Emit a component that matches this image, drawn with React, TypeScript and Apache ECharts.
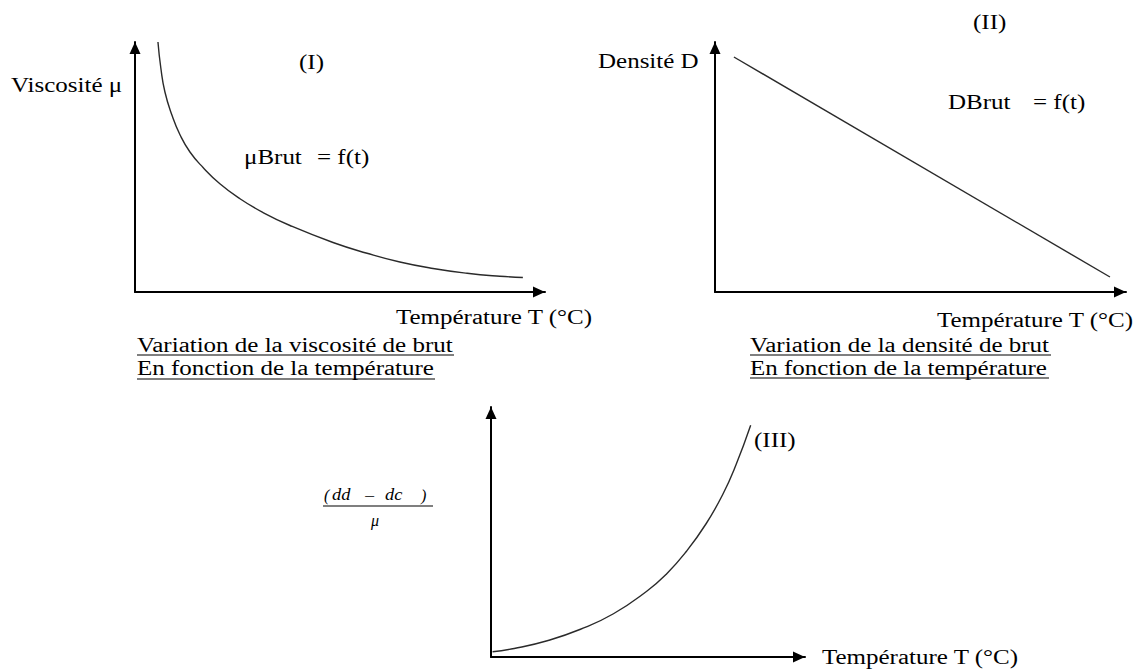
import React, { useEffect, useRef } from "react";
import * as echarts from "echarts";

// Chart I: viscosity vs temperature (relative units 0..100)
const visTemp = [5.6, 6.3, 7.3, 9.0, 11.0, 13.4, 16.6, 20.7, 25.6, 31.2, 37.8, 48.3, 56.6, 64.6, 72.7, 81, 89, 94.6];
const visMu = [100, 89.6, 80, 70.8, 62.8, 56, 49.8, 43.3, 37.3, 31.8, 26.6, 19.8, 15.5, 12, 9.4, 7.5, 6.3, 5.8];
// Chart II: density vs temperature
const densTemp = [4.6, 96.1];
const densD = [94, 6];
// Chart III: (dd - dc)/mu vs temperature
const ratioTemp = [0.5, 7.4, 17.9, 28.5, 39, 49.6, 55.9, 62.2, 68.5, 73.8, 78, 82.7];
const ratioVal = [2.1, 3.4, 6.5, 11.1, 17.3, 26.3, 33.2, 42.2, 53.3, 65, 76.8, 92.7];

const axisName = "Température T (°C)";
const titlesI = ["Variation de la viscosité de brut", "En fonction de la température"];
const titlesII = ["Variation de la densité de brut", "En fonction de la température"];

const FONT = '20px "Liberation Serif", "Times New Roman", serif';
const IFONT = 'italic 16px "Liberation Serif", serif';
const SX = 1.25;

function txt(text: string, x: number, y: number, font = FONT, sx = SX, align = "left") {
  return {
    type: "text",
    x,
    y,
    scaleX: sx,
    silent: true,
    style: {
      text,
      x: 0,
      y: 0,
      font,
      fill: "#000",
      textAlign: align,
      textVerticalAlign: "middle",
      align,
      verticalAlign: "middle",
    },
  };
}

function uline(x1: number, x2: number, y: number, w = 1.2) {
  return {
    type: "line",
    silent: true,
    shape: { x1, y1: y, x2, y2: y },
    style: { stroke: "#000", lineWidth: w },
  };
}

function axis(gridIndex: number) {
  return {
    type: "value",
    gridIndex,
    min: 0,
    max: 100,
    axisLine: {
      show: true,
      onZero: false,
      symbol: ["none", "triangle"],
      symbolSize: [11, 12],
      symbolOffset: [0, -6],
      lineStyle: { color: "#000", width: 2 },
    },
    axisTick: { show: false },
    axisLabel: { show: false },
    splitLine: { show: false },
  };
}

export default function App() {
  const ref = useRef<HTMLDivElement>(null);
  useEffect(() => {
    if (!ref.current) return;
    const chart = echarts.init(ref.current, null, { renderer: "svg" });
    const lineStyle = { color: "#2a2a2a", width: 1.4 };
    chart.setOption({
      animation: false,
      backgroundColor: "#fff",
      grid: [
        { left: 135, top: 42, width: 410, height: 250 },
        { left: 715, top: 42, width: 411, height: 250 },
        { left: 491, top: 407, width: 314, height: 250 },
      ],
      xAxis: [axis(0), axis(1), axis(2)],
      yAxis: [axis(0), axis(1), axis(2)],
      series: [
        {
          type: "line",
          xAxisIndex: 0,
          yAxisIndex: 0,
          data: visTemp.map((t, i) => [t, visMu[i]]),
          smooth: 0.5,
          showSymbol: false,
          clip: false,
          lineStyle,
        },
        {
          type: "line",
          xAxisIndex: 1,
          yAxisIndex: 1,
          data: densTemp.map((t, i) => [t, densD[i]]),
          showSymbol: false,
          clip: false,
          lineStyle,
        },
        {
          type: "line",
          xAxisIndex: 2,
          yAxisIndex: 2,
          data: ratioTemp.map((t, i) => [t, ratioVal[i]]),
          smooth: 0.5,
          showSymbol: false,
          clip: false,
          lineStyle,
        },
      ],
      graphic: [
        // Chart I
        txt("Viscosité μ", 11, 85),
        txt("(I)", 299, 62),
        txt("μBrut", 244, 157),
        txt("= f(t)", 317, 157),
        txt(axisName, 396, 317),
        txt(titlesI[0], 137, 345),
        uline(137, 454, 355),
        txt(titlesI[1], 137, 368),
        uline(137, 435, 379),
        // Chart II
        txt("(II)", 973, 22),
        txt("Densité D", 598, 61),
        txt("DBrut", 948, 102),
        txt("= f(t)", 1033, 102),
        txt(axisName, 937, 320),
        txt(titlesII[0], 750, 345),
        uline(750, 1051, 355),
        txt(titlesII[1], 750, 368),
        uline(750, 1049, 378),
        // Chart III
        txt("(III)", 754, 440),
        txt("(", 324, 495, IFONT, 1),
        txt("dd", 332, 495, IFONT, 1.15),
        txt("−", 364, 496, '17px "Liberation Serif", serif', 1.15),
        txt("dc", 385, 495, IFONT, 1.15),
        txt(")", 421, 495, IFONT, 1),
        uline(323, 433, 506),
        txt("μ", 371, 520, IFONT, 1),
        txt(axisName, 822, 657),
      ],
    });
    return () => chart.dispose();
  }, []);
  return (
    <div
      ref={ref}
      style={{ position: "fixed", left: 0, top: 0, width: 1136, height: 669, background: "#fff" }}
    />
  );
}
